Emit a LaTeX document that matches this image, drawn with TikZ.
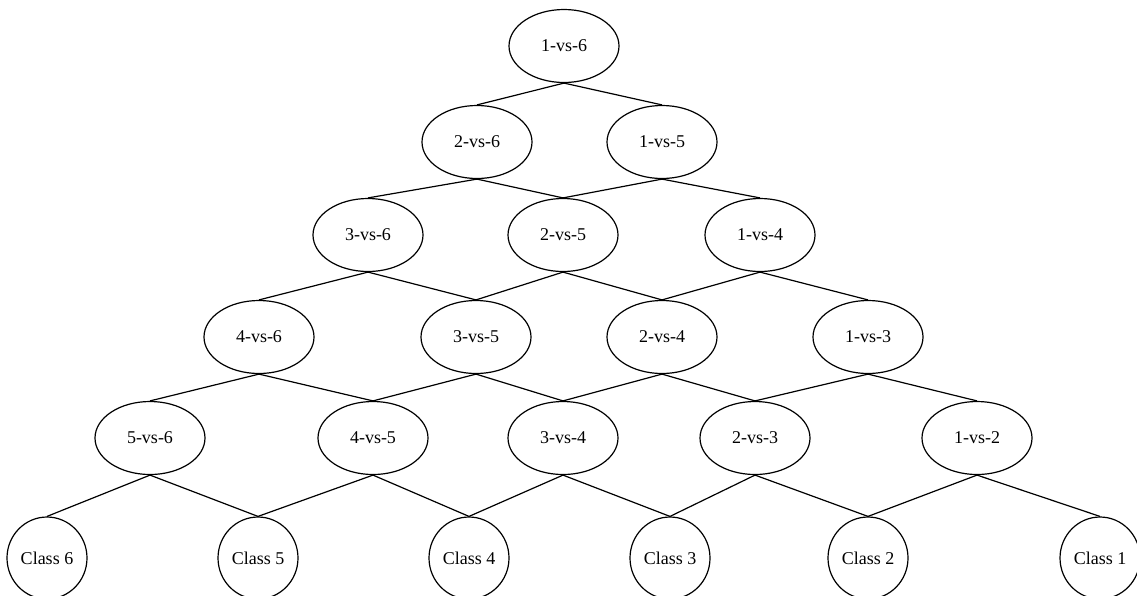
\documentclass[tikz,border=0pt]{standalone}
\usepackage{fontspec}
\setmainfont{Liberation Serif}
\usetikzlibrary{shapes.geometric}
\begin{document}
\begin{tikzpicture}[x=1pt,y=-1pt,
  every node/.style={font=\fontsize{18}{20}\selectfont},
  cmp/.style={draw,ellipse,line width=1.2pt,minimum width=110pt,minimum height=73pt,inner sep=0pt},
  cls/.style={draw,ellipse,line width=1.2pt,minimum width=80pt,minimum height=82pt,inner sep=0pt},
  link/.style={line width=1.2pt}]
\useasboundingbox (0,0) rectangle (1137,595);
% row 1
\node[cmp] (a16) at (564,46) {1-vs-6};
% row 2
\node[cmp] (a26) at (477,142) {2-vs-6};
\node[cmp] (a15) at (662,142) {1-vs-5};
% row 3
\node[cmp] (a36) at (368,235) {3-vs-6};
\node[cmp] (a25) at (563,235) {2-vs-5};
\node[cmp] (a14) at (760,235) {1-vs-4};
% row 4
\node[cmp] (a46) at (259,337) {4-vs-6};
\node[cmp] (a35) at (476,337) {3-vs-5};
\node[cmp] (a24) at (662,337) {2-vs-4};
\node[cmp] (a13) at (868,337) {1-vs-3};
% row 5
\node[cmp] (a56) at (150,438) {5-vs-6};
\node[cmp] (a45) at (373,438) {4-vs-5};
\node[cmp] (a34) at (563,438) {3-vs-4};
\node[cmp] (a23) at (755,438) {2-vs-3};
\node[cmp] (a12) at (977,438) {1-vs-2};
% row 6
\node[cls] (c6) at (47,558) {Class 6};
\node[cls] (c5) at (258,558) {Class 5};
\node[cls] (c4) at (469,558) {Class 4};
\node[cls] (c3) at (670,558) {Class 3};
\node[cls] (c2) at (868,558) {Class 2};
\node[cls] (c1) at (1100,558) {Class 1};
% edges
\foreach \p/\l/\r in {a16/a26/a15, a26/a36/a25, a15/a25/a14,
  a36/a46/a35, a25/a35/a24, a14/a24/a13,
  a46/a56/a45, a35/a45/a34, a24/a34/a23, a13/a23/a12,
  a56/c6/c5, a45/c5/c4, a34/c4/c3, a23/c3/c2, a12/c2/c1}{
  \draw[link] (\p.south) -- (\l.north);
  \draw[link] (\p.south) -- (\r.north);
}
\end{tikzpicture}
\end{document}
